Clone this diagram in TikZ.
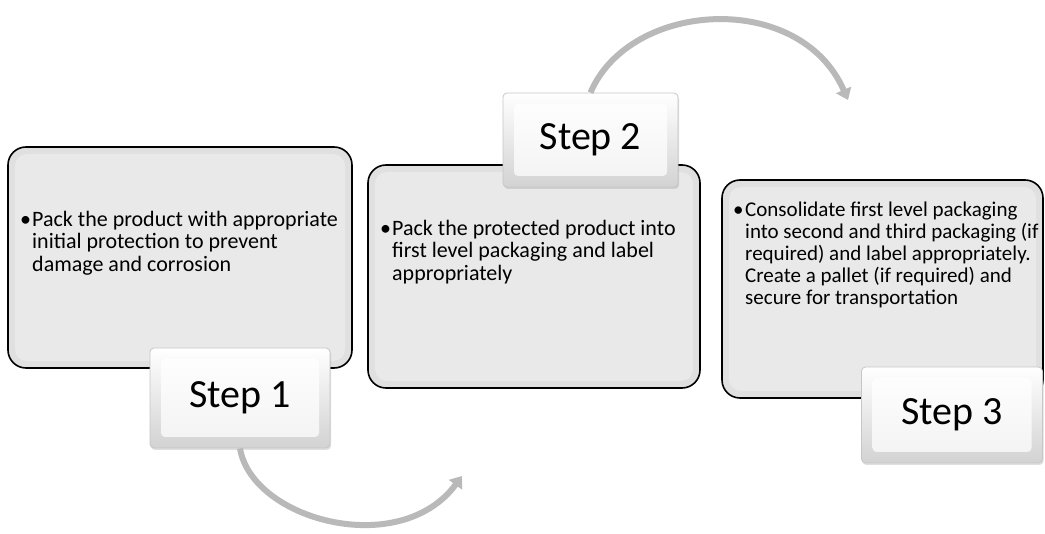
\documentclass[tikz,border=0pt]{standalone}
\usepackage{fontspec}
\setmainfont{Carlito}
\usetikzlibrary{arrows.meta,shadows}

\begin{document}
\begin{tikzpicture}[x=1pt,y=-1pt]
    \tikzstyle{mainbox}=[draw=black, line width=1.6pt, fill=gray!24, rounded corners=18pt,
        path picture={\fill[gray!17, rounded corners=12pt]
            ([shift={(7pt,-7pt)}]path picture bounding box.north west) rectangle
            ([shift={(-7pt,7pt)}]path picture bounding box.south east);}]
    \tikzstyle{stepbox}=[draw=gray!45, line width=0.8pt, rounded corners=4pt,
        top color=white, bottom color=gray!35, font=\fontsize{40}{44}\selectfont,
        drop shadow={opacity=0.25, shadow xshift=1pt, shadow yshift=-2pt},
        path picture={\shade[top color=white, bottom color=gray!10]
            ([shift={(11pt,-11pt)}]path picture bounding box.north west) rectangle
            ([shift={(-11pt,11pt)}]path picture bounding box.south east);}]
    \tikzstyle{btext}=[anchor=north west, inner sep=0pt, align=flush left,
        font=\fontsize{22}{22.5}\selectfont]
    \tikzstyle{marrs}=[draw=gray!55, line width=6pt, -{Triangle[width=16pt,length=11pt]}]
    \def\bul#1{\hangindent=10pt\hangafter=1\makebox[10pt][l]{\kern-2pt\textbullet}#1\par}

    \useasboundingbox (0,0) rectangle (1045,534);

    % boxes
    \node[mainbox, minimum width=344, minimum height=221] (box1) at (180,257.5) {};
    \node[mainbox, minimum width=332, minimum height=223] (box2) at (534,276.5) {};
    \node[mainbox, minimum width=321, minimum height=218] (box3) at (882.5,289) {};

    \node[btext, text width=330] (txt1) at (22,211)
        {\bul{Pack the product with appropriate initial protection to prevent damage and corrosion}};
    \node[btext, text width=300] (txt2) at (382,220)
        {\bul{Pack the protected product into first level packaging and label appropriately}};
    \node[btext, text width=313, font=\fontsize{21}{22}\selectfont] (txt3) at (735,202)
        {\bul{Consolidate first level packaging into second and third packaging (if required) and label appropriately. Create a pallet (if required) and secure for transportation}};

    % arrows
    \coordinate (end1) at (462,476);
    \coordinate (end2) at (848,100);
    \node[stepbox, minimum width=180, minimum height=100] (step1) at (240,398) {Step 1};
    \node[stepbox, minimum width=175, minimum height=94] (step2) at (590.5,140) {Step 2};
    \node[stepbox, minimum width=181, minimum height=96] (step3) at (952,415) {Step 3};

    \draw[marrs] (step1.south) .. controls (252,520) and (400,560) .. (end1);
    \draw[marrs] (step2.north) .. controls (630,0) and (800,-10) .. (end2);
\end{tikzpicture}
\end{document}
